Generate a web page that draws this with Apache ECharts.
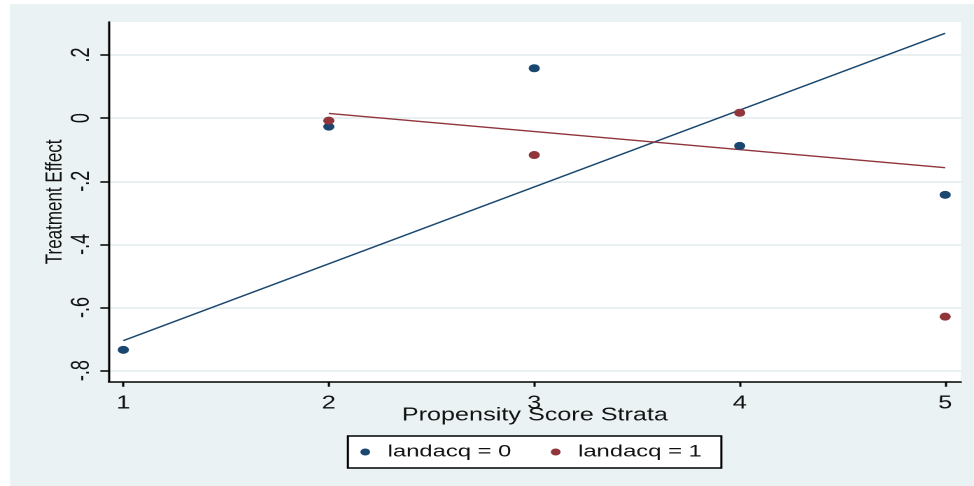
<!DOCTYPE html>
<html>
<head>
<meta charset="utf-8">
<script src="https://cdn.jsdelivr.net/npm/echarts@6/dist/echarts.min.js"></script>
<style>
html,body{margin:0;padding:0;background:#fff;overflow:hidden;}
#wrap{width:974px;height:486px;overflow:hidden;}
#c{width:696px;height:486px;transform:scaleX(1.399425);transform-origin:0 0;}
</style>
</head>
<body>
<div id="wrap"><div id="c"></div></div>
<script>
// Data
const strata0 = [1, 2, 3, 4, 5];
const effect0 = [-0.734, -0.027, 0.158, -0.088, -0.243];
const strata1 = [2, 3, 4, 5];
const effect1 = [-0.008, -0.117, 0.017, -0.629];
const fit0X = [1, 5];
const fit0Y = [-0.705, 0.269];
const fit1X = [2, 5];
const fit1Y = [0.015, -0.157];
const xTicks = [1, 2, 3, 4, 5];
const yTicks = [-0.8, -0.6, -0.4, -0.2, 0, 0.2];
const seriesNames = ['landacq = 0', 'landacq = 1'];

const BLUE = '#1a476f';
const RED = '#90353b';
const BG = '#eaf2f3';
const FONT = 'Liberation Sans';
const zip = (xs, ys) => xs.map((x, i) => [x, ys[i]]);
const fmtY = v => v === 0 ? '0' : (v < 0 ? '-' : '') + String(Math.abs(v)).replace(/^0/, '');

const chart = echarts.init(document.getElementById('c'), null, {renderer: 'canvas', devicePixelRatio: 2});
chart.setOption({
  animation: false,
  backgroundColor: '#fff',
  textStyle: {fontFamily: FONT},
  graphic: [{
    type: 'rect', z: -100, silent: true,
    shape: {x: 7.15, y: 4, width: 700, height: 490},
    style: {fill: BG}
  }],
  grid: {
    left: 77.7, right: 9.3, top: 22, bottom: 104.3,
    show: true, backgroundColor: '#fff', borderWidth: 0
  },
  xAxis: {
    type: 'value', min: 0.929, max: 5.077,
    name: 'Propensity Score Strata', nameLocation: 'middle', nameGap: 25,
    nameMoveOverlap: false,
    nameTextStyle: {fontSize: 18, color: '#111', fontFamily: FONT},
    axisLine: {show: true, onZero: false, lineStyle: {color: '#000', width: 1.5}},
    axisTick: {show: true, length: 5, lineStyle: {color: '#000', width: 1.5}, customValues: xTicks},
    axisLabel: {fontSize: 18, color: '#111', margin: 13, customValues: xTicks, formatter: v => String(v)},
    splitLine: {show: false}
  },
  yAxis: {
    type: 'value', min: -0.835, max: 0.3045,
    name: 'Treatment Effect', nameLocation: 'middle', nameGap: 30, nameRotate: 90,
    nameMoveOverlap: false,
    nameTextStyle: {fontSize: 17, color: '#111', fontFamily: FONT},
    axisLine: {show: true, onZero: false, lineStyle: {color: '#000', width: 1.5}},
    axisTick: {show: true, length: 6, lineStyle: {color: '#000', width: 1.5}, customValues: yTicks},
    axisLabel: {fontSize: 18, color: '#111', margin: 10, rotate: 90, customValues: yTicks, formatter: fmtY},
    splitLine: {show: true, lineStyle: {color: '#e2ebed', width: 1.5}}
  },
  legend: {
    data: seriesNames,
    left: 248.6, top: 436,
    orient: 'horizontal',
    padding: [6, 14, 6, 8.9],
    itemGap: 28.2,
    itemWidth: 22, itemHeight: 7,
    icon: 'circle',
    borderColor: '#000', borderWidth: 1.5, backgroundColor: '#fff',
    textStyle: {fontSize: 17, color: '#111', lineHeight: 20, fontFamily: FONT}
  },
  series: [
    {name: 'fit0', type: 'line', data: zip(fit0X, fit0Y), symbol: 'none',
     lineStyle: {color: BLUE, width: 1.4}, z: 2},
    {name: 'fit1', type: 'line', data: zip(fit1X, fit1Y), symbol: 'none',
     lineStyle: {color: RED, width: 1.4}, z: 2},
    {name: seriesNames[0], type: 'scatter', data: zip(strata0, effect0), symbol: 'circle',
     symbolSize: 8, itemStyle: {color: BLUE, opacity: 1}, z: 3},
    {name: seriesNames[1], type: 'scatter', data: zip(strata1, effect1), symbol: 'circle',
     symbolSize: 8, itemStyle: {color: RED, opacity: 1}, z: 4}
  ]
});
</script>
</body>
</html>
